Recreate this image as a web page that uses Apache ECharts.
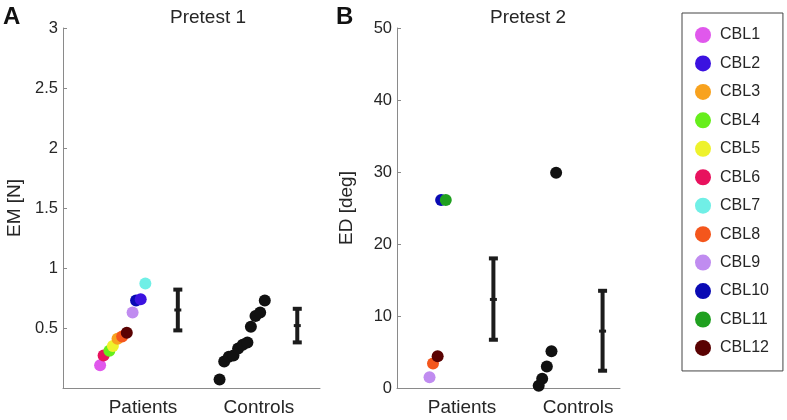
<!DOCTYPE html>
<html>
<head>
<meta charset="utf-8">
<script src="https://cdn.jsdelivr.net/npm/echarts@6/dist/echarts.min.js"></script>
<style>html,body{margin:0;padding:0;background:#fff}#c{width:787px;height:420px}</style>
</head>
<body>
<div id="c"></div>
<script>
// ---------- data ----------
const cblNames = ['CBL1','CBL2','CBL3','CBL4','CBL5','CBL6','CBL7','CBL8','CBL9','CBL10','CBL11','CBL12'];
const cblColors = ['#e058ec','#3b12e0','#f8a21e','#66ee1c','#eef22c','#e8125e','#70efe6','#f4561c','#c08cf0','#0a0ab4','#20a020','#5a0202'];
// Pretest 1 (EM [N]) patients: jittered x position and value, per CBL (null = not shown)
const p1PatientX = [0.63, 0.98, 0.78, 0.71, 0.74, 0.66, 1.02, 0.82, 0.91, 0.94, null, 0.86];
const p1PatientEM = [0.19, 0.74, 0.41, 0.31, 0.35, 0.27, 0.87, 0.43, 0.63, 0.73, null, 0.46];
// Pretest 1 controls
const p1ControlX = [1.66, 1.70, 1.74, 1.78, 1.82, 1.86, 1.90, 1.93, 1.97, 2.01, 2.05];
const p1ControlEM = [0.07, 0.22, 0.26, 0.27, 0.33, 0.36, 0.38, 0.51, 0.60, 0.63, 0.73];
// Pretest 2 (ED [deg]) patients
const p2PatientX = [null, null, null, null, null, null, null, 0.75, 0.72, 0.82, 0.86, 0.79];
const p2PatientED = [null, null, null, null, null, null, null, 3.4, 1.5, 26.1, 26.1, 4.4];
// Pretest 2 controls
const p2ControlX = [1.66, 1.69, 1.73, 1.77, 1.81];
const p2ControlED = [0.3, 1.3, 3.0, 5.1, 29.9];
// error bars: [x, low, mean, high]
const p1ErrorX = [1.30, 2.33];
const p1ErrorLow = [0.48, 0.38];
const p1ErrorMean = [0.65, 0.52];
const p1ErrorHigh = [0.82, 0.66];
const p2ErrorX = [1.27, 2.21];
const p2ErrorLow = [6.7, 2.4];
const p2ErrorMean = [12.3, 7.9];
const p2ErrorHigh = [18.0, 13.5];
// axes
const groupLabels = ['Patients', 'Controls'];
const groupPositions = [1, 2];
const p1Ticks = [0.5, 1, 1.5, 2, 2.5, 3];
const p2Ticks = [0, 10, 20, 30, 40, 50];

// ---------- chart ----------
const FONT = "'Liberation Sans', Arial, sans-serif";
const AXIS = '#8a8a8a';
const TXT = '#262626';
const chart = echarts.init(document.getElementById('c'));

function xAxisFor(gridIndex, min, max) {
  return {
    type: 'value', gridIndex, min, max,
    axisLine: { show: true, lineStyle: { color: AXIS, width: 1 } },
    axisTick: { show: false },
    splitLine: { show: false },
    axisLabel: {
      customValues: groupPositions,
      formatter: v => groupLabels[groupPositions.indexOf(v)] || '',
      color: TXT, fontFamily: FONT, fontSize: 19, margin: 10
    }
  };
}
function yAxisFor(gridIndex, min, max, interval, ticks, name, nameGap) {
  return {
    type: 'value', gridIndex, min, max, interval,
    name, nameLocation: 'middle', nameGap,
    nameTextStyle: { color: TXT, fontFamily: FONT, fontSize: 19 },
    axisLine: { show: true, lineStyle: { color: AXIS, width: 1 } },
    axisTick: { show: true, inside: true, length: 4, lineStyle: { color: AXIS } },
    splitLine: { show: false },
    axisLabel: {
      formatter: v => (ticks.indexOf(v) >= 0 ? String(v) : ''),
      color: TXT, fontFamily: FONT, fontSize: 16.5, margin: 5
    }
  };
}

function errorSeries(xIdx, yIdx, xs, lows, means, highs) {
  const data = xs.map((x, i) => [x, lows[i], means[i], highs[i]]);
  return {
    type: 'custom', xAxisIndex: xIdx, yAxisIndex: yIdx, silent: true, z: 1,
    data,
    encode: { x: 0, y: [1, 2, 3] },
    renderItem: function (params, api) {
      const x = api.value(0);
      const lo = api.coord([x, api.value(1)]);
      const mn = api.coord([x, api.value(2)]);
      const hi = api.coord([x, api.value(3)]);
      const st = { stroke: '#1c1c1c', lineWidth: 4 };
      const cap = 4.5;
      return {
        type: 'group',
        children: [
          { type: 'line', shape: { x1: lo[0], y1: lo[1], x2: hi[0], y2: hi[1] }, style: st },
          { type: 'line', shape: { x1: lo[0] - cap, y1: lo[1], x2: lo[0] + cap, y2: lo[1] }, style: st },
          { type: 'line', shape: { x1: hi[0] - cap, y1: hi[1], x2: hi[0] + cap, y2: hi[1] }, style: st },
          { type: 'line', shape: { x1: mn[0] - 3.5, y1: mn[1], x2: mn[0] + 3.5, y2: mn[1] }, style: { stroke: '#1c1c1c', lineWidth: 3 } }
        ]
      };
    }
  };
}

const series = [];
// patients pretest 1 in order of x (right-most on top)
const order1 = cblNames.map((n, i) => i).filter(i => p1PatientX[i] !== null)
  .sort((a, b) => p1PatientX[a] - p1PatientX[b]);
order1.forEach(i => {
  series.push({
    name: cblNames[i], type: 'scatter', xAxisIndex: 0, yAxisIndex: 0,
    symbol: 'circle', symbolSize: 12, z: 3,
    itemStyle: { color: cblColors[i], opacity: 1 },
    data: [[p1PatientX[i], p1PatientEM[i]]]
  });
});
// patients pretest 2
cblNames.forEach((n, i) => {
  if (p2PatientX[i] === null) return;
  series.push({
    name: n, type: 'scatter', xAxisIndex: 1, yAxisIndex: 1,
    symbol: 'circle', symbolSize: 12, z: 3,
    itemStyle: { color: cblColors[i], opacity: 1 },
    data: [[p2PatientX[i], p2PatientED[i]]]
  });
});
series.push({
  name: 'Controls1', type: 'scatter', xAxisIndex: 0, yAxisIndex: 0,
  symbol: 'circle', symbolSize: 12, z: 3, itemStyle: { color: '#111', opacity: 1 },
  data: p1ControlX.map((x, i) => [x, p1ControlEM[i]])
});
series.push({
  name: 'Controls2', type: 'scatter', xAxisIndex: 1, yAxisIndex: 1,
  symbol: 'circle', symbolSize: 12, z: 3, itemStyle: { color: '#111', opacity: 1 },
  data: p2ControlX.map((x, i) => [x, p2ControlED[i]])
});
series.push(errorSeries(0, 0, p1ErrorX, p1ErrorLow, p1ErrorMean, p1ErrorHigh));
series.push(errorSeries(1, 1, p2ErrorX, p2ErrorLow, p2ErrorMean, p2ErrorHigh));

const option = {
  backgroundColor: '#ffffff',
  animation: false,
  grid: [
    { left: 63, right: 467, top: 28, bottom: 32 },
    { left: 397, right: 167, top: 28, bottom: 32 }
  ],
  xAxis: [xAxisFor(0, 0.31, 2.526), xAxisFor(1, 0.44, 2.36)],
  yAxis: [
    yAxisFor(0, 0, 3, 0.5, p1Ticks, 'EM [N]', 39),
    yAxisFor(1, 0, 50, 10, p2Ticks, 'ED [deg]', 41)
  ],
  title: [
    { text: 'A', left: 3, top: 5, textStyle: { fontFamily: FONT, fontSize: 24, fontWeight: 'bold', color: '#111' }, padding: 0 },
    { text: 'B', left: 336, top: 5, textStyle: { fontFamily: FONT, fontSize: 24, fontWeight: 'bold', color: '#111' }, padding: 0 },
    { text: 'Pretest 1', left: 170, top: 8, textStyle: { fontFamily: FONT, fontSize: 19, fontWeight: 'normal', color: TXT }, padding: 0 },
    { text: 'Pretest 2', left: 490, top: 8, textStyle: { fontFamily: FONT, fontSize: 19, fontWeight: 'normal', color: TXT }, padding: 0 }
  ],
  legend: {
    data: cblNames.map(n => ({ name: n, icon: 'circle' })),
    orient: 'vertical', left: 682, top: 13,
    itemWidth: 24, itemHeight: 16, itemGap: 12.45,
    padding: [14, 14, 15, 13],
    borderColor: '#444', borderWidth: 1,
    selectedMode: false,
    textStyle: { fontFamily: FONT, fontSize: 16, color: TXT }
  },
  series
};
chart.setOption(option);
</script>
</body>
</html>
